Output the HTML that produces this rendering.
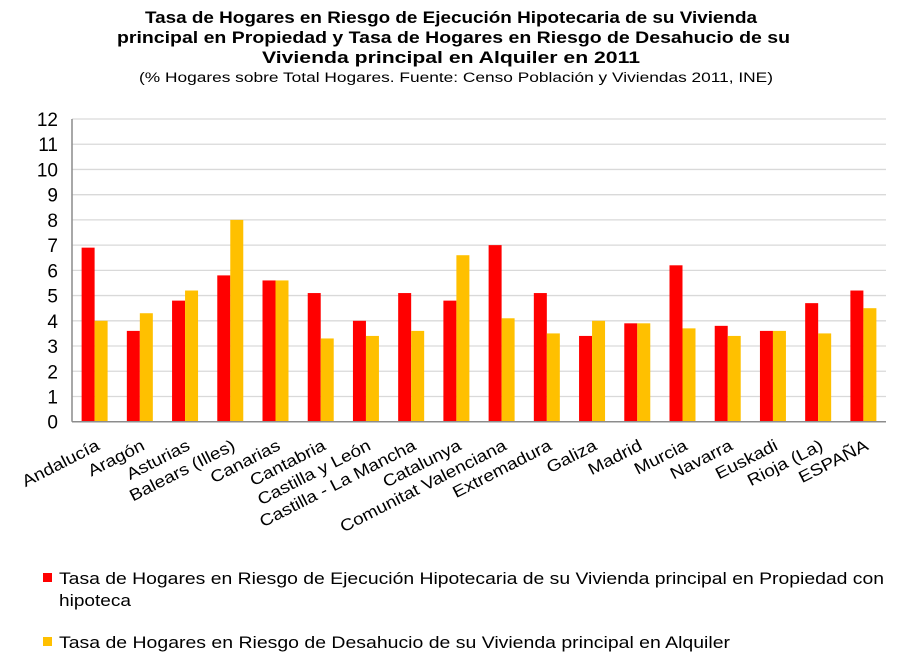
<!DOCTYPE html>
<html><head><meta charset="utf-8"><style>
body{margin:0;background:#fff;width:900px;height:663px;overflow:hidden;font-family:"Liberation Sans",Arial,sans-serif}
</style></head><body>
<svg id="chart" width="900" height="663" xmlns="http://www.w3.org/2000/svg" font-family="Liberation Sans, Arial, sans-serif">
<g font-weight="bold" font-size="16.5" fill="#000">
<text x="145" y="23" textLength="612" lengthAdjust="spacingAndGlyphs">Tasa de Hogares en Riesgo de Ejecución Hipotecaria de su Vivienda</text>
<text x="117" y="43" textLength="673" lengthAdjust="spacingAndGlyphs">principal en Propiedad y Tasa de Hogares en Riesgo de Desahucio de  su</text>
<text x="262" y="63" textLength="378" lengthAdjust="spacingAndGlyphs">Vivienda principal en Alquiler en 2011</text>
</g>
<text x="139" y="82" font-size="13.5" textLength="634" lengthAdjust="spacingAndGlyphs">(% Hogares sobre Total Hogares. Fuente: Censo  Población y Viviendas 2011, INE)</text>
<g id="grid"></g><g id="bars"></g><g id="axes"></g>
<g font-size="17">
<g>
<rect x="43" y="573" width="9" height="9" fill="#ff0000"/>
<text x="59" y="584" textLength="825" lengthAdjust="spacingAndGlyphs">Tasa de Hogares en Riesgo de Ejecución Hipotecaria de su Vivienda principal en Propiedad con</text>
<text x="59" y="606" textLength="72" lengthAdjust="spacingAndGlyphs">hipoteca</text></g>
<g>
<rect x="43" y="637" width="9" height="9" fill="#ffc000"/>
<text x="59" y="648" textLength="671" lengthAdjust="spacingAndGlyphs">Tasa de Hogares en Riesgo de Desahucio de su Vivienda principal en Alquiler</text></g>
</g>
</svg>
<script>
const categories=["Andalucía","Aragón","Asturias","Balears (Illes)","Canarias","Cantabria","Castilla y León","Castilla - La Mancha","Catalunya","Comunitat Valenciana","Extremadura","Galiza","Madrid","Murcia","Navarra","Euskadi","Rioja (La)","ESPAÑA"];
const ejecucion=[6.9,3.6,4.8,5.8,5.6,5.1,4.0,5.1,4.8,7.0,5.1,3.4,3.9,6.2,3.8,3.6,4.7,5.2];
const desahucio=[4.0,4.3,5.2,8.0,5.6,3.3,3.4,3.6,6.6,4.1,3.5,4.0,3.9,3.7,3.4,3.6,3.5,4.5];
const yTicks=[0,1,2,3,4,5,6,7,8,9,10,11,12];
const NS="http://www.w3.org/2000/svg";
const X0=72,X1=886,Y0=421.7,Y12=119,YMAX=12;
const y=v=>Y0-(v/YMAX)*(Y0-Y12);
const gw=(X1-X0)/categories.length;
const xc=i=>X0+gw*(i+0.5);
const BW=13;
function mk(tag,attrs,parent){const e=document.createElementNS(NS,tag);for(const k in attrs)e.setAttribute(k,attrs[k]);parent.appendChild(e);return e;}
const grid=document.getElementById('grid'),bars=document.getElementById('bars'),axes=document.getElementById('axes');
yTicks.forEach(t=>{
  if(t>0){const l=mk('line',{x1:X0,x2:X1,y1:y(t),y2:y(t),stroke:'#d9d9d9','stroke-width':1.3},grid);
  
  }
  const tx=mk('text',{x:58,y:y(t)+7,'text-anchor':'end','font-size':19,fill:'#000'},axes);
  tx.textContent=t;
  
  
});
categories.forEach((c,i)=>{
  const r=mk('rect',{x:xc(i)-BW,y:y(ejecucion[i]),width:BW,height:Y0-y(ejecucion[i]),fill:'#ff0000'},bars);
  
  
  const o=mk('rect',{x:xc(i),y:y(desahucio[i]),width:BW,height:Y0-y(desahucio[i]),fill:'#ffc000'},bars);
  
  
  const ax=xc(i)+6,ay=449;
  const t=mk('text',{x:0,y:0,'text-anchor':'end','font-size':16.5,fill:'#000',transform:`translate(${ax} ${ay}) rotate(-27) scale(1.15 1)`},axes);
  t.textContent=c;
  
  
});
const ya=mk('line',{x1:X0,x2:X0,y1:Y12,y2:Y0,stroke:'#8c8c8c','stroke-width':1.5},axes);


const xa=mk('line',{x1:X0,x2:X1,y1:Y0,y2:Y0,stroke:'#8c8c8c','stroke-width':1.5},axes);


</script>
</body></html>
